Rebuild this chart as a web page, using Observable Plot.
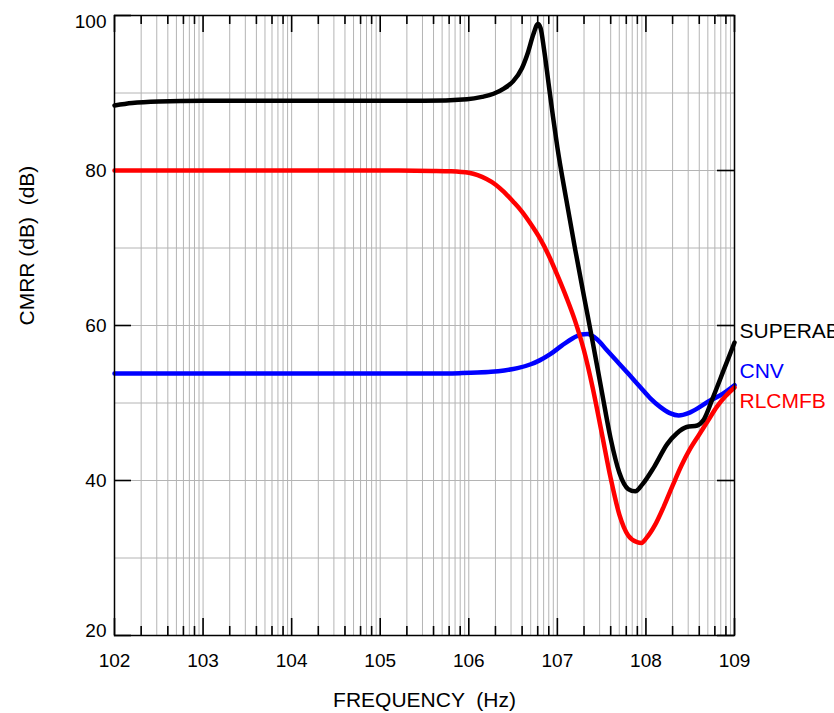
<!DOCTYPE html>
<html>
<head>
<meta charset="utf-8">
<script src="https://cdn.jsdelivr.net/npm/d3@7"></script>
<script src="https://cdn.jsdelivr.net/npm/@observablehq/plot@0.6"></script>
<style>
  html, body { margin: 0; padding: 0; background: #fff; overflow: hidden; }
  #chart { width: 834px; height: 713px; }
</style>
</head>
<body>
<div id="chart"></div>
<script>
// ---- data (x = log10 of frequency in Hz, y = CMRR in dB) ----
const decades = [2, 3, 4, 5, 6, 7, 8, 9];
const xTickLabels = ["102", "103", "104", "105", "106", "107", "108", "109"];
const yTickValues = [20, 40, 60, 80, 100];
const yGridValues = [20, 30, 40, 50, 60, 70, 80, 90, 100];
const minorMultipliers = [2, 3, 4, 5, 6, 7, 8, 9];
const minorTickMultipliers = [2, 4, 6, 8];

const seriesNames = ["SUPERAB", "CNV", "RLCMFB"];
const seriesColors = ["#000000", "#0000ff", "#ff0000"];
const labelY = [59.3, 54.1, 50.2];

const superabLogF = [2.0, 2.2, 2.5, 3.0, 4.0, 5.0, 5.5, 5.98, 6.15, 6.28, 6.4, 6.5, 6.6, 6.67, 6.73, 6.78, 6.81, 6.85, 6.9, 6.95, 7.0, 7.1, 7.2, 7.3, 7.4, 7.5, 7.6, 7.7, 7.8, 7.88, 7.96, 8.09, 8.24, 8.35, 8.46, 8.58, 8.65, 8.76, 8.88, 9.0];
const superabCMRR = [88.4, 88.7, 88.9, 89.0, 89.0, 89.0, 89.0, 89.2, 89.5, 89.9, 90.6, 91.5, 93.2, 95.3, 97.6, 98.9, 98.4, 95.6, 91.3, 87.0, 83.0, 76.3, 69.9, 63.8, 57.8, 51.6, 45.5, 41.0, 38.9, 38.6, 39.5, 41.7, 44.7, 46.1, 46.9, 47.1, 47.8, 50.8, 54.3, 57.8];

const cnvLogF = [2.0, 3.0, 4.0, 5.0, 5.6, 5.9, 6.1, 6.25, 6.4, 6.55, 6.7, 6.8, 6.92, 7.05, 7.18, 7.27, 7.34, 7.45, 7.56, 7.64, 7.8, 7.94, 8.05, 8.16, 8.27, 8.37, 8.48, 8.61, 8.72, 8.84, 9.0];
const cnvCMRR = [53.8, 53.8, 53.8, 53.8, 53.8, 53.85, 53.92, 54.02, 54.2, 54.5, 55.0, 55.5, 56.3, 57.4, 58.4, 58.85, 58.9, 58.2, 56.8, 55.8, 53.8, 52.0, 50.6, 49.5, 48.7, 48.4, 48.7, 49.5, 50.3, 51.0, 52.3];

const rlcmfbLogF = [2.0, 3.0, 4.0, 5.0, 5.6, 5.8, 6.0, 6.1, 6.2, 6.3, 6.4, 6.5, 6.6, 6.7, 6.8, 6.9, 7.0, 7.1, 7.2, 7.3, 7.4, 7.5, 7.6, 7.7, 7.8, 7.9, 7.95, 8.0, 8.1, 8.2, 8.3, 8.4, 8.5, 8.6, 8.7, 8.8, 8.9, 9.0];
const rlcmfbCMRR = [80.0, 80.0, 80.0, 80.0, 79.95, 79.9, 79.7, 79.4, 78.9, 78.2, 77.2, 76.0, 74.7, 73.1, 71.3, 69.1, 66.5, 63.7, 60.6, 56.8, 51.9, 46.2, 40.4, 35.6, 32.9, 32.05, 31.95, 32.5, 34.2, 36.6, 39.3, 41.9, 44.1, 45.9, 47.7, 49.5, 50.9, 52.0];

const xAxisLabel = "FREQUENCY  (Hz)";
const yAxisLabel = "CMRR (dB)  (dB)";

// ---- derived tables ----
const toRows = (lf, v, name) => lf.map((d, i) => ({f: Math.pow(10, d), v: v[i], name}));
const superab = toRows(superabLogF, superabCMRR, "SUPERAB");
const cnv = toRows(cnvLogF, cnvCMRR, "CNV");
const rlcmfb = toRows(rlcmfbLogF, rlcmfbCMRR, "RLCMFB");

const decadeFreqs = decades.map(d => Math.pow(10, d));
const gridFreqs = [];
decades.slice(0, -1).forEach(d => minorMultipliers.forEach(m => gridFreqs.push(m * Math.pow(10, d))));
const minorTickFreqs = [];
decades.slice(0, -1).forEach(d => minorTickMultipliers.forEach(m => minorTickFreqs.push(m * Math.pow(10, d))));

const W = 834, H = 713, ML = 114, MR = 100, MT = 15, MB = 78;
const frameW = W - ML - MR, frameH = H - MT - MB;
const majorLen = 17, minorLen = 9;

const gridColor = "#b4b4b4";
const font = "'Liberation Sans', Arial, Helvetica, sans-serif";
const lw = 4.5;
const tickStyle = {stroke: "#000", strokeWidth: 1.6};

const chart = Plot.plot({
  width: W,
  height: H,
  marginLeft: ML,
  marginRight: MR,
  marginTop: MT,
  marginBottom: MB,
  style: {fontFamily: font, background: "#fff", overflow: "visible"},
  x: {type: "log", domain: [1e2, 1e9], axis: null},
  y: {type: "linear", domain: [20, 100], axis: null},
  marks: [
    // grid
    Plot.ruleX(gridFreqs, {x: d => d, stroke: gridColor, strokeWidth: 1}),
    Plot.ruleX(decadeFreqs, {x: d => d, stroke: gridColor, strokeWidth: 1}),
    Plot.ruleY(yGridValues, {y: d => d, stroke: gridColor, strokeWidth: 1}),
    // inward ticks (bottom, top, left, right)
    Plot.ruleX(decadeFreqs, {x: d => d, insetTop: frameH - majorLen, ...tickStyle}),
    Plot.ruleX(minorTickFreqs, {x: d => d, insetTop: frameH - minorLen, ...tickStyle}),
    Plot.ruleX(decadeFreqs, {x: d => d, insetBottom: frameH - majorLen, ...tickStyle}),
    Plot.ruleX(minorTickFreqs, {x: d => d, insetBottom: frameH - minorLen, ...tickStyle}),
    Plot.ruleY(yTickValues, {y: d => d, insetRight: frameW - majorLen, ...tickStyle}),
    Plot.ruleY(yTickValues, {y: d => d, insetLeft: frameW - majorLen, ...tickStyle}),
    // tick labels
    Plot.text(decades, {x: d => Math.pow(10, d), text: (d, i) => xTickLabels[i], frameAnchor: "bottom", dy: 31, fontSize: 19, fill: "#000"}),
    Plot.text(yTickValues.filter(v => v > 20 && v < 100), {y: d => d, text: d => String(d), frameAnchor: "left", dx: -8, textAnchor: "end", fontSize: 19, fill: "#000"}),
    Plot.text(yTickValues.filter(v => v === 100), {y: d => d, text: d => String(d), frameAnchor: "left", dx: -8, dy: 6, textAnchor: "end", fontSize: 19, fill: "#000"}),
    Plot.text(yTickValues.filter(v => v === 20), {y: d => d, text: d => String(d), frameAnchor: "left", dx: -8, dy: -5, textAnchor: "end", fontSize: 19, fill: "#000"}),
    // axis titles
    Plot.text([xAxisLabel], {text: d => d, frameAnchor: "bottom", dy: 71, fontSize: 21, fill: "#000"}),
    Plot.text([yAxisLabel], {text: d => d, frameAnchor: "left", dx: -87, rotate: -90, fontSize: 21, fill: "#000"}),
    // curves
    Plot.line(cnv, {x: "f", y: "v", stroke: seriesColors[1], strokeWidth: lw, curve: "monotone-x"}),
    Plot.line(rlcmfb, {x: "f", y: "v", stroke: seriesColors[2], strokeWidth: lw, curve: "monotone-x"}),
    Plot.line(superab, {x: "f", y: "v", stroke: seriesColors[0], strokeWidth: lw, curve: "monotone-x"}),
    // frame
    Plot.frame({stroke: "#000", strokeWidth: 1.5}),
    // series labels
    Plot.text(seriesNames, {x: () => 1e9, y: (d, i) => labelY[i], text: d => d, dx: 5, textAnchor: "start", fontSize: 21, fill: (d, i) => seriesColors[i]})
  ]
});
document.getElementById("chart").appendChild(chart);
</script>
</body>
</html>
